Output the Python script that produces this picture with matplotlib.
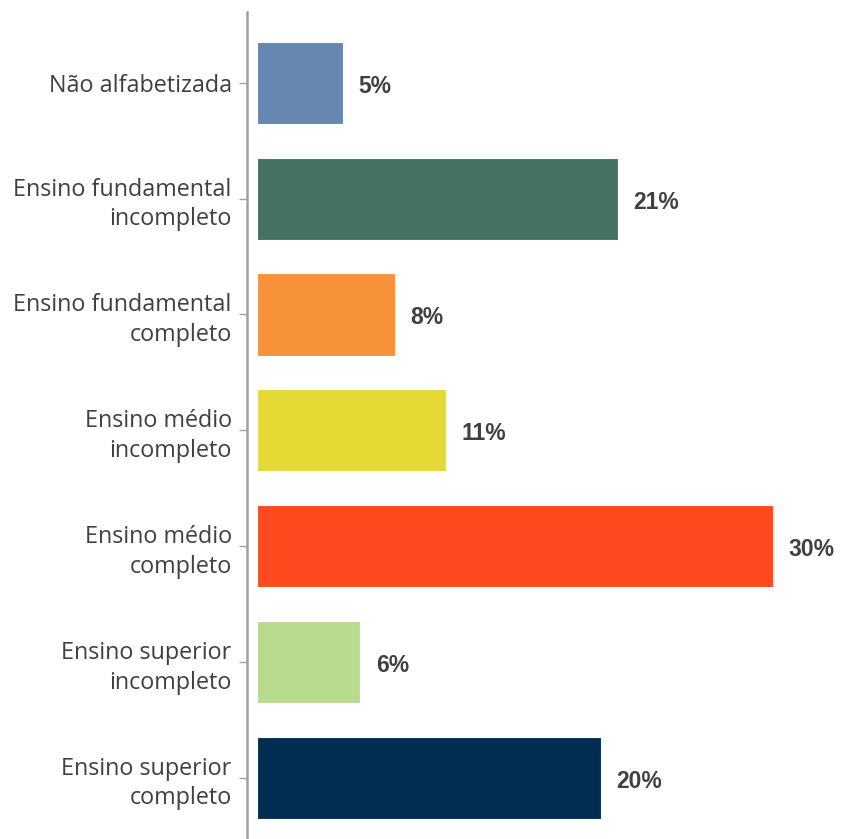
import matplotlib
matplotlib.use("Agg")
import matplotlib.pyplot as plt

categories = [
    "Não alfabetizada",
    "Ensino fundamental\nincompleto",
    "Ensino fundamental\ncompleto",
    "Ensino médio\nincompleto",
    "Ensino médio\ncompleto",
    "Ensino superior\nincompleto",
    "Ensino superior\ncompleto",
]
values = [5, 21, 8, 11, 30, 6, 20]
colors = ["#6688B0", "#457361", "#F8923A", "#E5D935", "#FF4A1F", "#B8DB8F", "#002E52"]

W, H = 841, 839
fig = plt.figure(figsize=(W / 100, H / 100), dpi=100)
ax = fig.add_axes([247 / W, 0, 1 - 247 / W, 1 - 12 / H])

ypos = list(range(len(categories)))
ax.barh(ypos, values, height=0.71, color=colors, edgecolor="white", linewidth=0.8)

for y, v in zip(ypos, values):
    ax.text(v + 0.9, y + 0.03, f"{v}%", va="center", ha="left", fontsize=16.5,
            fontweight="bold", color="#404040", family="Liberation Sans")

ax.set_yticks(ypos)
ax.set_yticklabels(categories, fontsize=16.8, color="#404040", family="Open Sans",
                   linespacing=1.32)
ax.set_ylim(6.53, -0.612)
ax.set_xlim(-0.58, 33.95)
ax.set_xticks([])

for s in ["top", "right", "bottom"]:
    ax.spines[s].set_visible(False)
ax.spines["left"].set_color("#A0A0A0")
ax.spines["left"].set_linewidth(1.8)
ax.tick_params(axis="y", length=6, width=1, color="#A0A0A0", pad=5)

fig.savefig("out.png", dpi=100)
